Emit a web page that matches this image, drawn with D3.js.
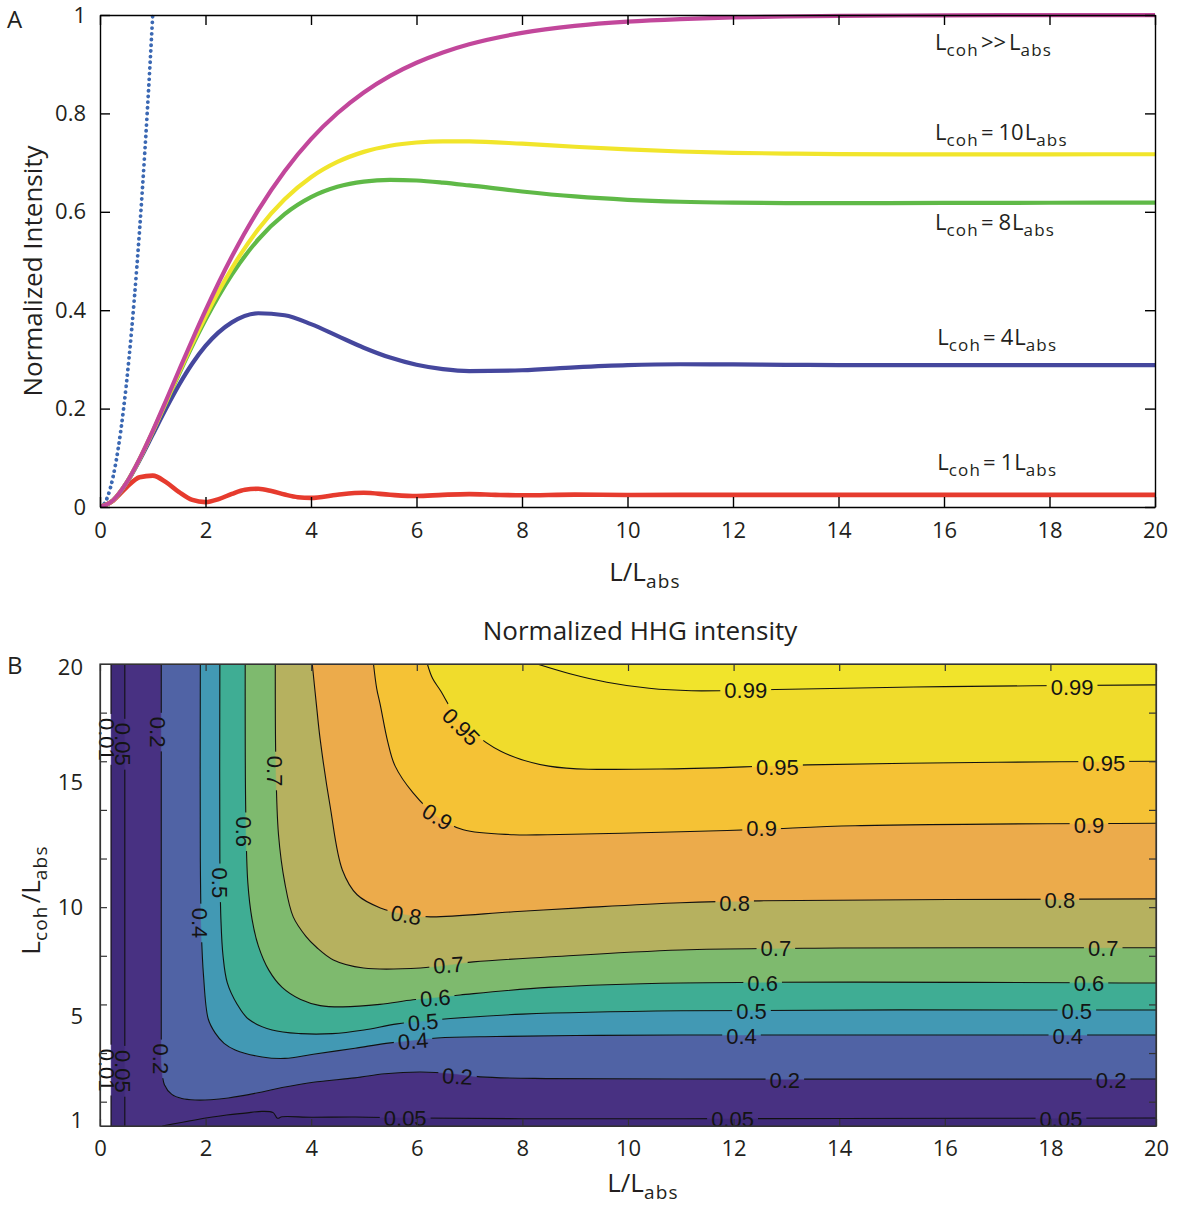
<!DOCTYPE html>
<html>
<head>
<meta charset="utf-8">
<script src="https://cdn.jsdelivr.net/npm/d3@7"></script>
<style>
  body { margin: 0; background: #fff; }
  svg { display: block; font-family: "Open Sans", sans-serif; }
</style>
</head>
<body>
<svg id="fig" width="1179" height="1205"></svg>
<script>
// ---------- Panel A: normalized intensity vs L/Labs ----------
const lenSteps = [0,0.25,0.5,0.75,1,1.25,1.5,1.75,2,2.5,3,3.5,4,4.5,5,5.5,6,6.5,7,8,9,10,11,12,13,14,16,18,20];
const lcohInfinite = [0,0.0138,0.0489,0.0978,0.1548,0.2159,0.2784,0.34,0.3996,0.5091,0.6035,0.6826,0.7477,0.8003,0.8426,0.8763,0.9029,0.9239,0.9405,0.9637,0.9779,0.9866,0.9918,0.995,0.997,0.9982,0.9993,0.9998,0.9999];
const lcoh10 = [0,0.0138,0.0488,0.0973,0.1536,0.2132,0.2734,0.3319,0.3872,0.4853,0.5646,0.6255,0.6702,0.7013,0.7218,0.7343,0.7409,0.7433,0.7431,0.7384,0.7322,0.7267,0.7226,0.7199,0.7183,0.7174,0.7168,0.7169,0.717];
const lcoh8 = [0,0.0138,0.0487,0.0971,0.1529,0.2117,0.2706,0.3274,0.3804,0.4724,0.5437,0.5952,0.6298,0.6508,0.6615,0.6649,0.6636,0.6593,0.6536,0.6413,0.6312,0.6244,0.6204,0.6185,0.6178,0.6177,0.6181,0.6184,0.6185];
const lcoh4 = [0,0.0138,0.0483,0.095,0.1471,0.1995,0.2485,0.2916,0.3274,0.3753,0.3938,0.3897,0.3717,0.3478,0.3238,0.3037,0.2891,0.2803,0.2763,0.2779,0.2839,0.2884,0.2901,0.2898,0.289,0.2884,0.2882,0.2884,0.2884];
const lenStepsFine = [0,0.25,0.5,0.75,1,1.25,1.5,1.75,2,2.25,2.5,2.75,3,3.25,3.5,3.75,4,4.5,5,5.5,6,6.5,7,7.5,8,9,10,12,14,16,18,20];
const lcoh1 = [0,0.0131,0.0397,0.0604,0.0637,0.0505,0.0302,0.0144,0.0099,0.016,0.0267,0.0351,0.037,0.0325,0.0254,0.0199,0.0185,0.025,0.0289,0.0248,0.0223,0.0247,0.0262,0.0247,0.0238,0.0252,0.0244,0.0247,0.0247,0.0247,0.0247,0.0247];
const noAbsSteps = [0,0.1,0.2,0.3,0.4,0.5,0.6,0.7,0.8,0.9,1.0];
const noAbsorption = [0,0.01,0.04,0.09,0.16,0.25,0.36,0.49,0.64,0.81,1.0];

const xTicksA = [0,2,4,6,8,10,12,14,16,18,20];
const yTicksA = [0,0.2,0.4,0.6,0.8,1];

// ---------- Panel B: contours of normalized HHG intensity ----------
// each contour is a list of [L/Labs, Lcoh/Labs] points
const levels = [0.01,0.05,0.2,0.4,0.5,0.6,0.7,0.8,0.9,0.95,0.99];
const contour001 = [[0.21,20],[0.21,1]];
const contour005a = [[0.47,20],[0.47,1]];
const contour005b = [[1.18,1],[1.8,1.25],[2.4,1.45],[2.75,1.53],[3.07,1.6],[3.28,1.55],[3.36,1.32],[3.45,1.38],[4.0,1.36],[4.83,1.37],[6,1.33],[8,1.3],[11,1.3],[14,1.31],[20,1.33]];
const contour02 = [[1.16,20],[1.16,10],[1.16,4.5],[1.17,3.4],[1.22,2.7],[1.36,2.3],[1.55,2.13],[1.8,2.07],[2.1,2.08],[2.43,2.15],[3.07,2.4],[3.45,2.58],[4.04,2.8],[4.83,2.98],[5.4,3.15],[6.07,3.22],[6.7,3.15],[7.2,3.02],[8.5,2.95],[11,2.93],[20,2.93]];
const contour04 = [[1.9,20],[1.9,12],[1.92,9],[1.96,7.2],[2.05,5.4],[2.18,4.83],[2.35,4.4],[2.56,4.13],[3.07,3.84],[3.5,3.78],[4.04,3.95],[4.83,4.2],[5.5,4.42],[6.39,4.62],[7.5,4.68],[9,4.72],[11,4.74],[20,4.74]];
const contour05 = [[2.27,20],[2.27,12],[2.29,9.5],[2.33,8],[2.41,6.9],[2.6,6.0],[2.81,5.4],[3.26,4.95],[3.8,4.8],[4.4,4.8],[5.0,4.95],[5.63,5.2],[6.64,5.42],[8,5.6],[11,5.74],[20,5.77]];
const contour06 = [[2.75,20],[2.76,14],[2.8,11],[2.88,9.5],[3.0,8.4],[3.2,7.4],[3.45,6.7],[3.8,6.2],[4.17,5.95],[4.6,5.9],[5.3,6.0],[5.93,6.19],[6.82,6.39],[8.5,6.7],[11,6.88],[20,6.88]];
const contour07 = [[3.32,20],[3.33,16],[3.38,13],[3.5,11],[3.66,9.6],[3.9,8.8],[4.1,8.35],[4.42,7.83],[4.99,7.5],[6.07,7.5],[7.07,7.75],[8.47,7.95],[11,8.24],[14,8.32],[20,8.33]];
const contour08 = [[4.02,20],[4.1,18.3],[4.17,16.9],[4.36,14.13],[4.59,11.53],[4.87,10.51],[5.31,9.97],[5.8,9.7],[6.26,9.6],[7.83,9.81],[9.1,9.97],[11,10.18],[12.5,10.26],[20,10.34]];
const contour09 = [[5.18,20],[5.24,19],[5.31,18.3],[5.45,16.8],[5.59,15.8],[5.93,14.7],[6.39,13.72],[6.88,13.18],[7.83,12.98],[8.47,12.98],[11,13.1],[12.5,13.2],[14.3,13.35],[20,13.45]];
const contour095 = [[6.2,20],[6.3,19.4],[6.45,18.9],[6.7,18.0],[7.0,17.3],[7.6,16.4],[8.5,15.8],[10.6,15.68],[13.4,15.85],[17,15.96],[20,16.0]];
const contour099 = [[8.28,20],[8.9,19.6],[9.6,19.25],[10.4,19.0],[11.2,18.9],[12.8,18.95],[16,19.07],[20,19.14]];
const contourPieces = [[contour001],[contour005a,contour005b],[contour02],[contour04],[contour05],[contour06],[contour07],[contour08],[contour09],[contour095],[contour099]];
const bandColors = ["#3f2a79","#483182","#5063a5","#4299b4","#3fad94","#7eba6e","#b6b15f","#ecab4b","#f5c235","#f0dc2c","#f1e42b"];

// inline contour labels: text, L/Labs, Lcoh/Labs, rotation
const contourLabels = [
  ["0.01",0.13,16.9,90],["0.05",0.44,16.7,90],["0.2",1.10,17.2,90],
  ["0.7",3.32,15.6,90],["0.6",2.73,13.1,90],["0.5",2.27,11.0,90],["0.4",1.89,9.35,90],
  ["0.01",0.13,3.3,90],["0.05",0.43,3.25,90],["0.2",1.16,3.76,90],
  ["0.95",6.84,17.42,45],["0.9",6.39,13.72,32],["0.8",5.8,9.68,10],
  ["0.7",6.6,7.63,-4],["0.6",6.35,6.27,-5],["0.5",6.12,5.28,-5],["0.4",5.93,4.5,-5],
  ["0.2",6.77,3.05,3],["0.05",5.78,1.33,0],
  ["0.99",12.23,18.93,0],["0.99",18.41,19.07,0],["0.95",12.83,15.77,0],["0.95",19.01,15.94,0],
  ["0.9",12.53,13.26,0],["0.9",18.73,13.39,0],["0.8",12.02,10.18,0],["0.8",18.18,10.28,0],
  ["0.7",12.8,8.33,0],["0.7",19.0,8.33,0],["0.6",12.55,6.88,0],["0.6",18.73,6.88,0],
  ["0.5",12.34,5.73,0],["0.5",18.5,5.73,0],["0.4",12.15,4.7,0],["0.4",18.33,4.7,0],
  ["0.2",12.97,2.89,0],["0.2",19.15,2.89,0],["0.05",11.98,1.29,0],["0.05",18.2,1.29,0]
];
const xTicksB = [0,2,4,6,8,10,12,14,16,18,20];
const yMinorTicksB = [2,4,6,8,10,12,14,16,18];
const yTickLabelsB = ["1","5","10","15","20"];

// ---------- drawing ----------
const W = 1179, H = 1205;
const TXT = "#231f20";
const svg = d3.select("#fig");
const defs = svg.append("defs");

// helper: text with subscripts, parts = [[string, isSub, dx], ...]
function richText(sel, parts, size, subSize, shift) {
  let down = false;
  parts.forEach(([s, sub, dx]) => {
    const t = sel.append("tspan").text(s);
    if (sub && !down) { t.attr("dy", shift).attr("font-size", subSize); down = true; }
    else if (!sub && down) { t.attr("dy", -shift).attr("font-size", size); down = false; }
    else t.attr("font-size", sub ? subSize : size);
    if (sub) t.attr("letter-spacing", 1.2);
    if (dx) t.attr("dx", dx);
  });
}

function styleAxis(g, fontSize) {
  g.selectAll(".domain").attr("stroke", "#000").attr("stroke-width", 1.4);
  g.selectAll(".tick line").attr("stroke", "#000").attr("stroke-width", 1.4);
  g.selectAll("text").attr("font-family", "'Open Sans', sans-serif").attr("font-size", fontSize).attr("fill", TXT);
  g.attr("font-family", null).attr("font-size", null);
}

// ===== Panel A =====
const A = { left: 100, right: 1155, top: 15, bottom: 507 };
const xA = d3.scaleLinear().domain([0, 20]).range([A.left, A.right]);
const yA = d3.scaleLinear().domain([0, 1]).range([A.bottom, A.top]);
const gA = svg.append("g");

defs.append("clipPath").attr("id", "clipA").append("rect")
  .attr("x", A.left).attr("y", A.top - 2).attr("width", A.right - A.left).attr("height", A.bottom - A.top + 2);

const lineA = d3.line().x(d => xA(d[0])).y(d => yA(d[1])).curve(d3.curveMonotoneX);
const zip = (xs, ys) => xs.map((x, i) => [x, ys[i]]);
const seriesA = [
  { pts: zip(lenStepsFine, lcoh1), color: "#e63b2e", w: 4.6 },
  { pts: zip(lenSteps, lcoh4), color: "#45479d", w: 4.2 },
  { pts: zip(lenSteps, lcoh8), color: "#5fb947", w: 4.2 },
  { pts: zip(lenSteps, lcoh10), color: "#f1e52b", w: 4.2 },
  { pts: zip(lenSteps, lcohInfinite), color: "#c2479b", w: 4.2 }
];
const curves = gA.append("g").attr("clip-path", "url(#clipA)");
curves.append("path").attr("d", lineA(zip(noAbsSteps, noAbsorption)))
  .attr("fill", "none").attr("stroke", "#3b68b3").attr("stroke-width", 3.8)
  .attr("stroke-dasharray", "0.1 5.6").attr("stroke-linecap", "round");
seriesA.forEach(s => {
  curves.append("path").attr("d", lineA(s.pts)).attr("fill", "none")
    .attr("stroke", s.color).attr("stroke-width", s.w).attr("stroke-linejoin", "round");
});

const fmtA = d => d === 0 ? "0" : d === 1 ? "1" : d3.format(".1f")(d);
styleAxis(gA.append("g").attr("transform", `translate(0,${A.bottom})`)
  .call(d3.axisBottom(xA).tickValues(xTicksA).tickSize(-10).tickSizeOuter(0).tickPadding(15).tickFormat(d3.format("d"))), 22);
styleAxis(gA.append("g").attr("transform", `translate(0,${A.top})`)
  .call(d3.axisTop(xA).tickValues(xTicksA).tickSize(-10).tickSizeOuter(0).tickFormat("")), 22);
styleAxis(gA.append("g").attr("transform", `translate(${A.left},0)`)
  .call(d3.axisLeft(yA).tickValues(yTicksA).tickSize(-10).tickSizeOuter(0).tickPadding(14).tickFormat(fmtA)), 22);
styleAxis(gA.append("g").attr("transform", `translate(${A.right},0)`)
  .call(d3.axisRight(yA).tickValues(yTicksA).tickSize(-10).tickSizeOuter(0).tickFormat("")), 22);

// curve annotations
const notesA = [
  { x: 15.83, y: 0.929, parts: [["L"], ["coh", 1], [">>", 0, 2], ["L", 0, 3], ["abs", 1]] },
  { x: 15.83, y: 0.746, parts: [["L"], ["coh", 1], ["=", 0, 2], ["10", 0, 5], ["L", 0, 1], ["abs", 1]] },
  { x: 15.83, y: 0.563, parts: [["L"], ["coh", 1], ["=", 0, 2], ["8", 0, 5], ["L", 0, 1], ["abs", 1]] },
  { x: 15.87, y: 0.329, parts: [["L"], ["coh", 1], ["=", 0, 2], ["4", 0, 5], ["L", 0, 1], ["abs", 1]] },
  { x: 15.87, y: 0.075, parts: [["L"], ["coh", 1], ["=", 0, 2], ["1", 0, 5], ["L", 0, 1], ["abs", 1]] }
];
notesA.forEach(n => {
  const t = gA.append("text").attr("x", xA(n.x)).attr("y", yA(n.y)).attr("fill", TXT);
  richText(t, n.parts, 22, 17, 6);
});

gA.append("text").attr("transform", `translate(42,271) rotate(-90)`).attr("text-anchor", "middle")
  .attr("font-size", 26).attr("fill", TXT).text("Normalized Intensity");
const xlabA = gA.append("text").attr("x", 645).attr("y", 581).attr("text-anchor", "middle").attr("fill", TXT);
richText(xlabA, [["L/L"], ["abs", 1]], 26, 19, 7);
svg.append("text").attr("x", 7).attr("y", 28).attr("font-size", 24).attr("fill", TXT).text("A");

// ===== Panel B =====
const B = { left: 100, right: 1156, top: 664, bottom: 1126 };
const xB = d3.scaleLinear().domain([0, 20]).range([B.left, B.right]);
const yB = d3.scaleLinear().domain([1, 20]).range([B.bottom, B.top]);
const gB = svg.append("g");

defs.append("clipPath").attr("id", "clipB").append("rect")
  .attr("x", B.left).attr("y", B.top).attr("width", B.right - B.left).attr("height", B.bottom - B.top);

const lineB = d3.line().x(d => xB(d[0])).y(d => yB(d[1])).curve(d3.curveCatmullRom.alpha(0.5));

// filled regions above each level, painted from the lowest level upward
const fills = gB.append("g").attr("clip-path", "url(#clipB)");
fills.append("rect").attr("x", B.left).attr("y", B.top).attr("width", B.right - B.left)
  .attr("height", B.bottom - B.top).attr("fill", "#ffffff");
contourPieces.forEach((pieces, i) => {
  let d = pieces.map((p, k) => { const s = lineB(p); return k === 0 ? s : "L" + s.slice(1); }).join("");
  const last = pieces[pieces.length - 1];
  const lastPt = last[last.length - 1];
  d += `L${xB(20)},${yB(lastPt[1])}L${xB(20)},${yB(20)}Z`;
  fills.append("path").attr("d", d).attr("fill", bandColors[i]).attr("stroke", bandColors[i]).attr("stroke-width", 0.5);
});

// inline labels and gaps in the contour lines around them
const mask = defs.append("mask").attr("id", "labelGaps").attr("maskUnits", "userSpaceOnUse")
  .attr("x", 0).attr("y", 0).attr("width", W).attr("height", H);
mask.append("rect").attr("width", W).attr("height", H).attr("fill", "white");

const lines = gB.append("g").attr("clip-path", "url(#clipB)").append("g").attr("mask", "url(#labelGaps)");
contourPieces.forEach(pieces => pieces.forEach(p => {
  lines.append("path").attr("d", lineB(p)).attr("fill", "none").attr("stroke", "#111").attr("stroke-width", 1.1);
}));

const labG = gB.append("g").attr("font-family", "'Liberation Sans', Arial, sans-serif").attr("font-size", 22).attr("fill", "#141414");
contourLabels.forEach(([t, L, lc, ang]) => {
  const tr = `translate(${xB(L)},${yB(lc)}) rotate(${ang})`;
  const txt = labG.append("text").attr("transform", tr).attr("text-anchor", "middle").attr("dy", "0.36em").text(t);
  const w = txt.node().getComputedTextLength();
  mask.append("rect").attr("transform", tr).attr("x", -w / 2 - 4).attr("y", -9).attr("width", w + 8).attr("height", 18).attr("fill", "black");
});

// frame and ticks
gB.append("rect").attr("x", B.left).attr("y", B.top).attr("width", B.right - B.left).attr("height", B.bottom - B.top)
  .attr("fill", "none").attr("stroke", "#333").attr("stroke-width", 1.2);
styleAxis(gB.append("g").attr("transform", `translate(0,${B.bottom})`)
  .call(d3.axisBottom(xB).tickValues(xTicksB).tickSize(-7).tickSizeOuter(0).tickPadding(14).tickFormat(d3.format("d"))), 22);
styleAxis(gB.append("g").attr("transform", `translate(0,${B.top})`)
  .call(d3.axisTop(xB).tickValues(xTicksB).tickSize(-7).tickSizeOuter(0).tickFormat("")), 22);
styleAxis(gB.append("g").attr("transform", `translate(${B.left},0)`)
  .call(d3.axisLeft(yB).tickValues(yMinorTicksB).tickSize(-7).tickSizeOuter(0).tickFormat("")), 22);
styleAxis(gB.append("g").attr("transform", `translate(${B.right},0)`)
  .call(d3.axisRight(yB).tickValues(yMinorTicksB).tickSize(-7).tickSizeOuter(0).tickFormat("")), 22);
gB.selectAll(".domain").attr("stroke", "#333").attr("stroke-width", 1.2);
gB.selectAll(".tick line").attr("stroke", "#333").attr("stroke-width", 1.2);

const yLabelSpotsB = [1.25, 5.5, 10, 15.15, 19.88];
yTickLabelsB.forEach((s, i) => {
  gB.append("text").attr("x", 83).attr("y", yB(yLabelSpotsB[i])).attr("dy", "0.36em")
    .attr("text-anchor", "end").attr("font-size", 22).attr("fill", TXT).text(s);
});

const ylabB = gB.append("text").attr("transform", `translate(40,900) rotate(-90)`).attr("text-anchor", "middle").attr("fill", TXT);
richText(ylabB, [["L"], ["coh", 1], ["/L", 0, 2], ["abs", 1]], 26, 19, 7);
const xlabB = gB.append("text").attr("x", 643).attr("y", 1192).attr("text-anchor", "middle").attr("fill", TXT);
richText(xlabB, [["L/L"], ["abs", 1]], 26, 19, 7);
gB.append("text").attr("x", 640).attr("y", 640).attr("text-anchor", "middle").attr("font-size", 26)
  .attr("fill", TXT).text("Normalized HHG intensity");
svg.append("text").attr("x", 7).attr("y", 674).attr("font-size", 24).attr("fill", TXT).text("B");
</script>
</body>
</html>
